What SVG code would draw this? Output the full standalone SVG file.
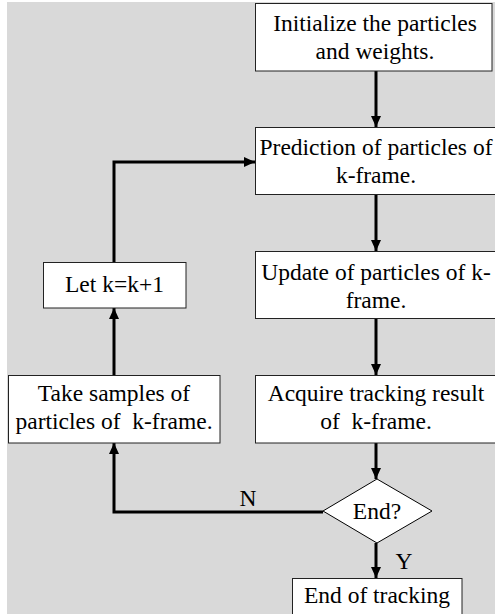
<svg xmlns="http://www.w3.org/2000/svg" width="495" height="614" viewBox="0 0 495 614">
<style>
.box{fill:#fff;stroke:#222;stroke-width:1}
.t{font-family:'Liberation Serif','Times New Roman',Times,serif;font-size:23.5px;fill:#000;text-anchor:middle}
.c{fill:none;stroke:#000;stroke-width:3}
</style>
<defs>
<marker id="ah" markerUnits="userSpaceOnUse" markerWidth="11" markerHeight="10" refX="11" refY="5" orient="auto">
<path d="M0,0 L11,5 L0,10 Z" fill="#000"/>
</marker>
</defs>
<rect x="7" y="2" width="490" height="614" fill="#d9d9d9"/>
<g id="connectors">
<line class="c" x1="376" y1="71" x2="376" y2="127" marker-end="url(#ah)"/>
<line class="c" x1="376" y1="194" x2="376" y2="251" marker-end="url(#ah)"/>
<line class="c" x1="376" y1="318" x2="376" y2="375" marker-end="url(#ah)"/>
<line class="c" x1="376" y1="443" x2="376" y2="479" marker-end="url(#ah)"/>
<line class="c" x1="376" y1="543" x2="376" y2="578" marker-end="url(#ah)"/>
<polyline class="c" points="323,512 114,512 114,443" marker-end="url(#ah)"/>
<line class="c" x1="114" y1="375" x2="114" y2="308" marker-end="url(#ah)"/>
<polyline class="c" points="114,262 114,162 255,162" marker-end="url(#ah)"/>
<text class="t" x="248" y="506">N</text>
<text class="t" x="404" y="569">Y</text>
</g>
<g id="init">
<rect class="box" x="255.5" y="3.5" width="236.5" height="67.5"/>
<text class="t" x="375" y="31">Initialize the particles</text>
<text class="t" x="375" y="59">and weights.</text>
</g>
<g id="predict">
<rect class="box" x="255.5" y="127.5" width="245" height="67"/>
<text class="t" x="376" y="155">Prediction of particles of</text>
<text class="t" x="376" y="183">k-frame.</text>
</g>
<g id="update">
<rect class="box" x="255.5" y="251.5" width="245" height="67"/>
<text class="t" x="376" y="280">Update of particles of k-</text>
<text class="t" x="376" y="308">frame.</text>
</g>
<g id="acquire">
<rect class="box" x="255.5" y="375.5" width="245" height="67.5"/>
<text class="t" x="376" y="401">Acquire tracking result</text>
<text class="t" x="376" y="429" xml:space="preserve">of  k-frame.</text>
</g>
<g id="samples">
<rect class="box" x="8.5" y="375.5" width="211.5" height="67.5"/>
<text class="t" x="114" y="401">Take samples of</text>
<text class="t" x="114" y="429" xml:space="preserve">particles of  k-frame.</text>
</g>
<g id="letk">
<rect class="box" x="43.5" y="262.5" width="142.5" height="45.5"/>
<text class="t" x="114.5" y="292">Let k=k+1</text>
</g>
<g id="decision">
<polygon points="377,479 432,511 377,543 323,511" fill="#fff" stroke="#000" stroke-width="1"/>
<text class="t" x="377" y="519">End?</text>
</g>
<g id="end">
<rect class="box" x="292.5" y="578.5" width="169.5" height="40"/>
<text class="t" x="377" y="603">End of tracking</text>
</g>
</svg>
